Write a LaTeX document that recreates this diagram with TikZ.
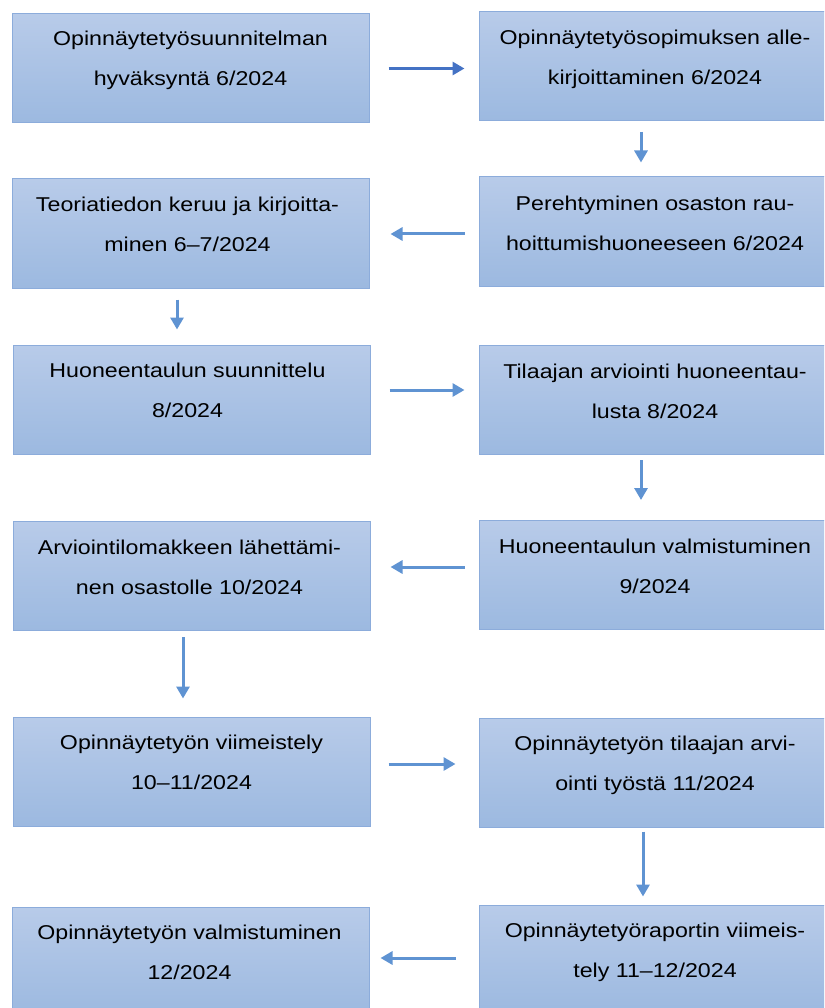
\documentclass[tikz,border=0pt]{standalone}
\usepackage{fontspec}
\setmainfont{Liberation Sans}[FakeStretch=1.16]
\usetikzlibrary{arrows.meta}
\definecolor{boxtop}{HTML}{B8CBE9}
\definecolor{boxbot}{HTML}{9CB9E0}
\definecolor{boxline}{HTML}{8CACDB}
\definecolor{arrdark}{HTML}{4472C4}
\definecolor{arrlight}{HTML}{5F93D2}
\tikzset{
  stepbox/.style={draw=boxline, line width=1pt, top color=boxtop, bottom color=boxbot,
    minimum height=109pt, inner sep=0pt},
  leftbox/.style={stepbox, minimum width=357pt},
  rightbox/.style={stepbox, minimum width=352pt},
  steptext/.style={anchor=north, inner sep=0pt, align=center,
    font=\fontsize{20}{40}\selectfont, text=black},
  arr/.style={draw=arrlight, line width=3pt,
    -{Triangle[length=12pt,width=13pt]}},
}
\begin{document}
\begin{tikzpicture}[x=1pt,y=-1pt]
\useasboundingbox (0,0) rectangle (824,1008);
\clip (0,0) rectangle (824,1008);
% boxes
\node[leftbox]  (b1)  at (190.5,68.5) {};
\node[rightbox] (b2)  at (655,66) {};
\node[rightbox] (b3)  at (655,231.5) {};
\node[leftbox]  (b4)  at (190.5,233.5) {};
\node[leftbox]  (b5)  at (191.5,399.5) {};
\node[rightbox] (b6)  at (655,400) {};
\node[rightbox] (b7)  at (655,575) {};
\node[leftbox]  (b8)  at (191.5,576) {};
\node[leftbox]  (b9)  at (191.5,771.5) {};
\node[rightbox] (b10) at (655,772.5) {};
\node[rightbox] (b11) at (655,959.5) {};
\node[leftbox]  (b12) at (190.5,961.5) {};
% texts
\node[steptext] (t1)  at ([yshift=-17.5pt]b1.north)  {Opinnäytetyösuunnitelman\\hyväksyntä 6/2024};
\node[steptext] (t2)  at ([yshift=-18.5pt]b2.north)  {Opinnäytetyösopimuksen alle-\\kirjoittaminen 6/2024};
\node[steptext] (t3)  at ([yshift=-19pt]b3.north)  {Perehtyminen osaston rau-\\hoittumishuoneeseen 6/2024};
\node[steptext] (t4)  at ([xshift=-3pt,yshift=-18.5pt]b4.north)  {Teoriatiedon keruu ja kirjoitta-\\minen 6–7/2024};
\node[steptext] (t5)  at ([xshift=-4pt,yshift=-18.5pt]b5.north)  {Huoneentaulun suunnittelu\\8/2024};
\node[steptext] (t6)  at ([yshift=-18.5pt]b6.north)  {Tilaajan arviointi huoneentau-\\lusta 8/2024};
\node[steptext] (t7)  at ([yshift=-18.5pt]b7.north)  {Huoneentaulun valmistuminen\\9/2024};
\node[steptext] (t8)  at ([xshift=-2pt,yshift=-18.5pt]b8.north)  {Arviointilomakkeen lähettämi-\\nen osastolle 10/2024};
\node[steptext] (t9)  at ([yshift=-18.5pt]b9.north)  {Opinnäytetyön viimeistely\\10–11/2024};
\node[steptext] (t10) at ([yshift=-18.5pt]b10.north) {Opinnäytetyön tilaajan arvi-\\ointi työstä 11/2024};
\node[steptext] (t11) at ([yshift=-18.5pt]b11.north) {Opinnäytetyöraportin viimeis-\\tely 11–12/2024};
\node[steptext] (t12) at ([xshift=-1pt,yshift=-18.5pt]b12.north) {Opinnäytetyön valmistuminen\\12/2024};
% arrows
\draw[arr, draw=arrdark, shorten <=19pt, shorten >=14pt] (b1.east) -- (b1.east -| b2.west);
\draw[arr, shorten <=11pt, shorten >=14pt] ([xshift=-14pt]b2.south) -- ([xshift=-14pt]b2.south |- b3.north);
\draw[arr, shorten <=14pt, shorten >=21pt] ([yshift=-2.5pt]b3.west) -- ([yshift=-2.5pt]b3.west -| b4.east);
\draw[arr, shorten <=11pt, shorten >=15pt] ([xshift=-13.5pt]b4.south) -- ([xshift=-13.5pt]b4.south |- b5.north);
\draw[arr, shorten <=19pt, shorten >=14pt] ([yshift=9.5pt]b5.east) -- ([yshift=9.5pt]b5.east -| b6.west);
\draw[arr, shorten <=5pt, shorten >=20pt] ([xshift=-14pt]b6.south) -- ([xshift=-14pt]b6.south |- b7.north);
\draw[arr, shorten <=14pt, shorten >=20pt] ([yshift=8pt]b7.west) -- ([yshift=8pt]b7.west -| b8.east);
\draw[arr, shorten <=6pt, shorten >=18pt] ([xshift=-8.5pt]b8.south) -- ([xshift=-8.5pt]b8.south |- b9.north);
\draw[arr, shorten <=18pt, shorten >=23pt] ([yshift=7.5pt]b9.east) -- ([yshift=7.5pt]b9.east -| b10.west);
\draw[arr, shorten <=4pt, shorten >=8pt] ([xshift=-12pt]b10.south) -- ([xshift=-12pt]b10.south |- b11.north);
\draw[arr, shorten <=23pt, shorten >=11pt] ([yshift=1.5pt]b11.west) -- ([yshift=1.5pt]b11.west -| b12.east);
\end{tikzpicture}
\end{document}
